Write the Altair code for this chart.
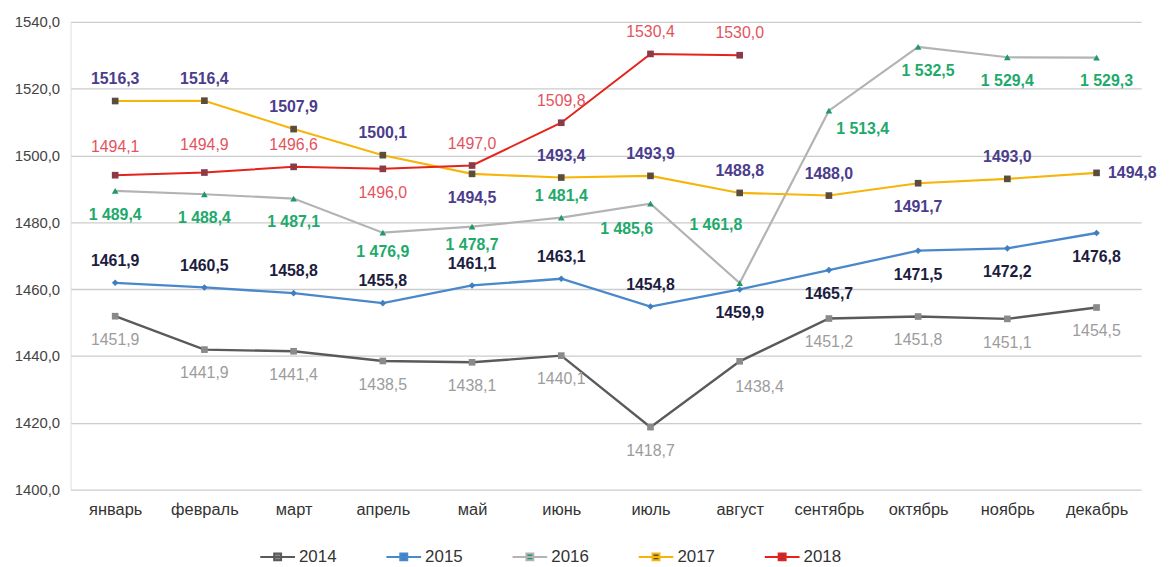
import altair as alt
import pandas as pd

MONTHS = ["январь", "февраль", "март", "апрель", "май", "июнь",
          "июль", "август", "сентябрь", "октябрь", "ноябрь", "декабрь"]
YEARS = ["2014", "2015", "2016", "2017", "2018"]

V2014 = [1451.9, 1441.9, 1441.4, 1438.5, 1438.1, 1440.1, 1418.7, 1438.4, 1451.2, 1451.8, 1451.1, 1454.5]
V2015 = [1461.9, 1460.5, 1458.8, 1455.8, 1461.1, 1463.1, 1454.8, 1459.9, 1465.7, 1471.5, 1472.2, 1476.8]
V2016 = [1489.4, 1488.4, 1487.1, 1476.9, 1478.7, 1481.4, 1485.6, 1461.8, 1513.4, 1532.5, 1529.4, 1529.3]
V2017 = [1516.3, 1516.4, 1507.9, 1500.1, 1494.5, 1493.4, 1493.9, 1488.8, 1488.0, 1491.7, 1493.0, 1494.8]
V2018 = [1494.1, 1494.9, 1496.6, 1496.0, 1497.0, 1509.8, 1530.4, 1530.0]

# label side per point: a=above, A=higher above, b=below, b2=just below, bR=below shifted right,
# r=right, br=below-right, bx=far below-right, bl=below-left, al=far above-left
SIDE2014 = ["b"] * 7 + ["br"] + ["b"] * 4
SIDE2015 = ["a"] * 7 + ["b"] * 5
SIDE2016 = ["b", "b", "b", "b2", "b2", "a", "bl", "al", "bx", "bR", "b", "bR"]
SIDE2017 = ["a", "a", "a", "a", "b", "a", "a", "a", "a", "b", "a", "r"]
SIDE2018 = ["A", "A", "a", "b", "a", "a", "a", "a"]

SERIES = {"2014": (V2014, SIDE2014), "2015": (V2015, SIDE2015), "2016": (V2016, SIDE2016),
          "2017": (V2017, SIDE2017), "2018": (V2018, SIDE2018)}

LINE_COLORS = ["#5a5a5a", "#4a88cc", "#b3b3b3", "#f6b50a", "#e5231b"]
LINE_WIDTHS = [2.4, 2.0, 2.0, 2.8, 2.8]
MARK_COLORS = ["#8a8a8a", "#3f7fc0", "#1f9a66", "#5b4d3c", "#8c3a48"]
MARK_SHAPES = ["square", "diamond", "triangle-up", "square", "square"]
TEXT_COLORS = ["#9c9c9c", "#1d1d3f", "#1faa6c", "#4b3d8c", "#e3535e"]
BOLD_YEARS = ["2015", "2016", "2017"]

OFFSETS = {"a": (0, -22), "A": (0, -28), "b": (0, 24), "b2": (0, 19), "bR": (10, 24),
           "r": (36, 0), "br": (20, 26), "bx": (34, 18), "bl": (-24, 26), "al": (-24, -58)}


def fmt(v, year):
    s = f"{v:.1f}".replace(".", ",")
    if year == "2016":
        s = s[0] + " " + s[1:]
    return s


rows = []
for year, (vals, sides) in SERIES.items():
    for i, v in enumerate(vals):
        rows.append({"month": MONTHS[i], "year": year, "value": v,
                     "label": fmt(v, year), "side": sides[i],
                     "weight": "bold" if year in BOLD_YEARS else "normal"})
df = pd.DataFrame(rows)

FONT = "Liberation Sans"

x = alt.X("month:N", sort=MONTHS, scale=alt.Scale(type="point", padding=0.5),
          axis=alt.Axis(title=None, ticks=False, domain=False, grid=False, labelAngle=0,
                        labelFontSize=16.5, labelColor="#333333", labelPadding=12, labelFont=FONT))
y = alt.Y("value:Q", scale=alt.Scale(domain=[1400, 1540], nice=False, zero=False),
          axis=alt.Axis(title=None, values=list(range(1400, 1541, 20)),
                        labelExpr="replace(format(datum.value, '.1f'), '.', ',')",
                        grid=True, gridColor="#cccccc", gridWidth=1.3, ticks=False,
                        domain=True, domainColor="#dddddd", labelFontSize=15,
                        labelColor="#444444", labelPadding=11, labelFont=FONT))

base = alt.Chart(df)

lines = base.transform_calculate(yw="'w' + datum.year").mark_line().encode(
    x=x, y=y,
    stroke=alt.Stroke("year:N", scale=alt.Scale(domain=YEARS, range=LINE_COLORS),
                      legend=alt.Legend(title=None, orient="none", direction="horizontal",
                                        columns=5, legendX=190, legendY=520,
                                        symbolType="M-1,0H1M-0.2,-0.2H0.2V0.2H-0.2Z",
                                        symbolSize=1225, symbolStrokeWidth=2,
                                        labelFontSize=17, labelColor="#333333",
                                        labelFont=FONT, labelOffset=3, columnPadding=46)),
    strokeWidth=alt.StrokeWidth("yw:O", scale=alt.Scale(domain=["w" + y_ for y_ in YEARS], range=LINE_WIDTHS),
                                legend=None),
    detail="year:N",
)

points = base.transform_calculate(shp="'s' + datum.year").mark_point(filled=True, size=45, opacity=1).encode(
    x=x, y=y,
    shape=alt.Shape("shp:N", scale=alt.Scale(domain=["s" + y_ for y_ in YEARS], range=MARK_SHAPES),
                    legend=None),
    fill=alt.Fill("year:N", scale=alt.Scale(domain=YEARS, range=MARK_COLORS), legend=None),
)

texts = []
for side, (dx, dy) in OFFSETS.items():
    for weight in ["bold", "normal"]:
        sub = df[(df.side == side) & (df.weight == weight)]
        if len(sub) == 0:
            continue
        t = base.transform_filter(
            (alt.datum.side == side) & (alt.datum.weight == weight)
        ).transform_calculate(tc="'t' + datum.year").mark_text(
            dx=dx, dy=dy, fontSize=16, fontWeight=weight, font=FONT,
            baseline="middle", align="center").encode(
            x=x, y=y, text="label:N",
            color=alt.Color("tc:N", scale=alt.Scale(domain=["t" + y_ for y_ in YEARS], range=TEXT_COLORS),
                            legend=None),
        )
        texts.append(t)

chart = alt.layer(lines, points, *texts).properties(
    width=1078, height=471,
    autosize=alt.AutoSizeParams(type="none"),
    padding={"left": 63, "top": 12, "right": 25, "bottom": 76},
).configure_view(stroke=None)

chart.save("out.html", embed_options={"renderer": "svg", "actions": False})
